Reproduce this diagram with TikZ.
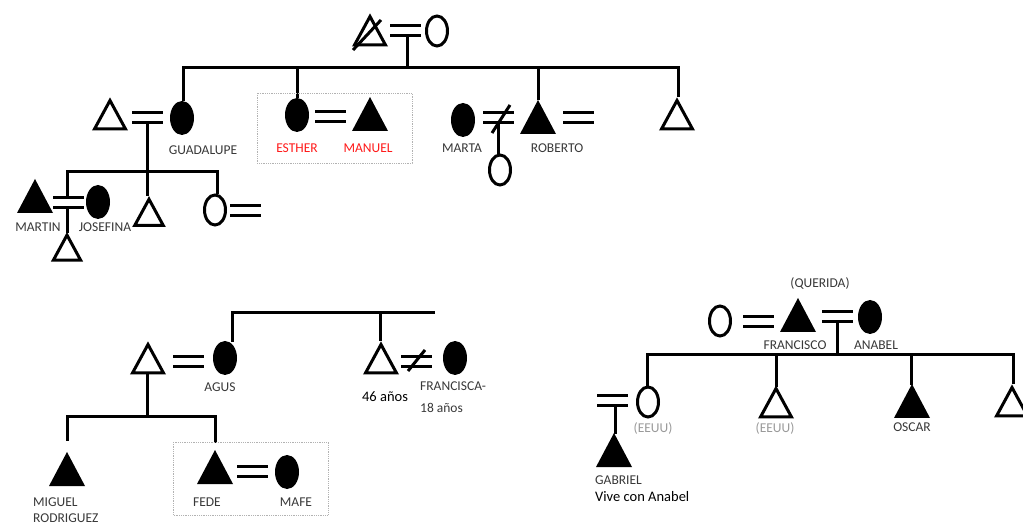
\documentclass[tikz,border=0pt]{standalone}
\usepackage{fontspec}
\setmainfont{Carlito}
\begin{document}
\begin{tikzpicture}[x=1pt,y=-1pt,
  ln/.style={line width=3pt},
  sym/.style={line width=3pt, line join=miter},
  lbl/.style={font=\fontsize{13.5}{15}\selectfont, text=black!78, inner sep=0pt},
  redlbl/.style={lbl, text=red!90},
  greylbl/.style={lbl, text=black!40},
  blklbl/.style={lbl, text=black, font=\fontsize{14.5}{16}\selectfont},
  grbox/.style={draw=black!30, line width=0.8pt, densely dotted},
  tri/.pic={\draw[sym] (0,3.5) -- (15.5,32) -- (-15.5,32) -- cycle;},
  ftri/.pic={\fill (0,0) -- (18,34) -- (-18,34) -- cycle;},
  circ/.pic={\draw[line width=3pt] (0,0) ellipse [x radius=10.5, y radius=15];},
  fcirc/.pic={\fill (0,0) ellipse [x radius=12, y radius=17];},
  eqs/.pic={\draw[ln] (0,-5) -- (31,-5) (0,5) -- (31,5);}
]
\useasboundingbox (0,0) rectangle (1023,526);

% ---------- first generation ----------
\pic at (370,13) {tri};
\draw[ln] (353,50) -- (381,20);
\pic at (390,31) {eqs};
\pic at (437,31) {circ};
\coordinate (c0) at (407,36);
\coordinate (c0b) at (407,68);
\draw[ln] (c0) -- (c0b);

\coordinate (t1) at (183,68);
\coordinate (t2) at (297,68);
\coordinate (t3) at (538,68);
\coordinate (t4) at (678,68);
\coordinate (gua-n) at (183,101);
\coordinate (est-n) at (297,98);
\coordinate (rob-n) at (538,100);
\coordinate (r-n) at (678,97);
\draw[ln, line join=miter] (gua-n) -- (t1) -- (t4) -- (r-n);
\draw[ln] (t2) -- (est-n);
\draw[ln] (t3) -- (rob-n);

% ---------- second generation ----------
\pic at (110,97) {tri};
\pic at (132,118) {eqs};
\pic at (182,118) {fcirc};

\draw[grbox] (257,93) rectangle (412,163);
\pic at (297,115) {fcirc};
\pic at (315,117) {eqs};
\pic at (370,97) {ftri};

\pic at (463,120) {fcirc};
\pic at (483,118) {eqs};
\draw[ln] (492,133) -- (510,105);
\coordinate (ne1) at (498,123);
\coordinate (sc-n) at (498,155);
\draw[ln] (ne1) -- (sc-n);
\pic at (500,170) {circ};
\pic at (538,100) {ftri};
\pic at (563,118) {eqs};
\pic at (677,97) {tri};

\node[lbl] (lgua) at (203,150) {GUADALUPE};
\node[redlbl] (lest) at (297,148) {ESTHER};
\node[redlbl] (lman) at (368,148) {MANUEL};
\node[lbl] (lmar) at (462,148) {MARTA};
\node[lbl] (lrob) at (557,148) {ROBERTO};

% ---------- third generation (left) ----------
\coordinate (gv) at (147,123);
\coordinate (mid-n) at (147,196);
\draw[ln] (gv) -- (mid-n);
\coordinate (h1) at (67,172);
\coordinate (h3) at (217,172);
\coordinate (mj-n) at (67,198);
\coordinate (ro-n) at (217,194);
\draw[ln, line join=miter] (mj-n) -- (h1) -- (h3) -- (ro-n);

\pic at (35,179) {ftri};
\pic at (53,202.5) {eqs};
\pic at (98,202) {fcirc};
\coordinate (mj-s) at (67,208);
\coordinate (ch-n) at (67,233);
\draw[ln] (mj-s) -- (ch-n);
\pic[scale=0.88] at (67,232) {tri};
\pic[scale=0.92] at (149,196) {tri};
\pic at (215,210) {circ};
\pic at (230,211) {eqs};

\node[lbl] (lmart) at (38,227) {MARTIN};
\node[lbl] (ljos) at (105,227) {JOSEFINA};

% ---------- bottom left family ----------
\coordinate (a1) at (232,313);
\coordinate (a2) at (435,313);
\coordinate (ag-n) at (232,342);
\draw[ln, line join=miter] (ag-n) -- (a1) -- (a2);
\coordinate (a3) at (380,313);
\coordinate (f46-n) at (380,341);
\draw[ln] (a3) -- (f46-n);

\pic at (148,341) {tri};
\pic at (173,362) {eqs};
\pic at (225,358) {fcirc};
\coordinate (av) at (147,374);
\coordinate (av2) at (147,417);
\draw[ln] (av) -- (av2);
\coordinate (b1) at (67,417);
\coordinate (b2) at (215,417);
\coordinate (mig-n) at (67,441);
\coordinate (fed-n) at (215,443);
\draw[ln, line join=miter] (mig-n) -- (b1) -- (b2) -- (fed-n);

\pic at (67,452) {ftri};
\draw[grbox] (173,442) rectangle (328,515);
\pic at (215,450) {ftri};
\pic at (237,471) {eqs};
\pic at (287,472) {fcirc};

\pic at (381,341) {tri};
\pic at (401,362) {eqs};
\draw[ln] (408,371) -- (425,350);
\pic at (455,358) {fcirc};

\node[lbl] (lagus) at (220,387) {AGUS};
\node[blklbl] (l46) at (385,397) {46 años};
\node[lbl, anchor=west] (lfra) at (420,386) {FRANCISCA-};
\node[lbl, anchor=west] (l18) at (420,408) {18 años};
\node[lbl, anchor=west] (lmig) at (33,502) {MIGUEL};
\node[lbl, anchor=west] (lrod) at (33,518) {RODRIGUEZ};
\node[lbl] (lfede) at (207,502) {FEDE};
\node[lbl] (lmafe) at (296,502) {MAFE};

% ---------- right family ----------
\node[lbl] (lque) at (820,284) {(QUERIDA)};
\pic at (720,321) {circ};
\pic at (743,322) {eqs};
\pic at (798,298) {ftri};
\pic at (822,317) {eqs};
\pic at (870,317) {fcirc};
\coordinate (fa) at (837,322);
\coordinate (fb) at (837,355);
\draw[ln] (fa) -- (fb);
\coordinate (k1) at (647,355);
\coordinate (k2) at (776,355);
\coordinate (k3) at (911,355);
\coordinate (k4) at (1013,355);
\coordinate (d1-n) at (647,387);
\coordinate (d2-n) at (776,387);
\coordinate (d3-n) at (911,385);
\coordinate (d4-n) at (1013,384);
\draw[ln, line join=miter] (d1-n) -- (k1) -- (k4) -- (d4-n);
\draw[ln] (k2) -- (d2-n);
\draw[ln] (k3) -- (d3-n);

\pic at (648,402) {circ};
\pic at (597,400.5) {eqs};
\coordinate (ga-a) at (615,405);
\coordinate (ga-n) at (615,434);
\draw[ln] (ga-a) -- (ga-n);
\pic at (614,433) {ftri};
\pic at (776,385) {tri};
\pic at (912,384) {ftri};
\pic at (1012,384) {tri};

\node[lbl] (lfco) at (795,345) {FRANCISCO};
\node[lbl] (lana) at (876,345) {ANABEL};
\node[greylbl] (lee1) at (653,428) {(EEUU)};
\node[greylbl] (lee2) at (775,428) {(EEUU)};
\node[lbl] (losc) at (912,427) {OSCAR};
\node[lbl, anchor=west] (lgab) at (595,480) {GABRIEL};
\node[blklbl, anchor=west] (lviv) at (595,497) {Vive con Anabel};
\end{tikzpicture}
\end{document}
